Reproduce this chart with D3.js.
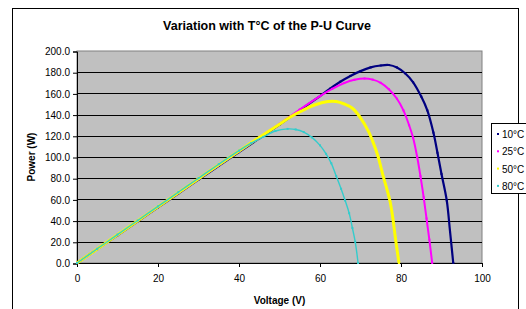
<!DOCTYPE html>
<html lang="en">
<head>
	<meta charset="UTF-8">
	<script type="text/javascript" src="https://d3js.org/d3.v7.min.js"></script>
	<title>Variation with T°C of the P-U Curve</title>
	<style>
		body{ margin:0; background:#fff; }
		text{ font-family:"Liberation Sans", Arial, sans-serif; fill:#000; }
		.tick text{ font-size:10px; }
		.title{ font-size:12.5px; font-weight:bold; }
		.axis_title{ font-size:10px; font-weight:bold; }
		.legend_text{ font-size:10px; }
		.curve{ fill:none; }
	</style>
</head>
<body>
	<script>
		const width = 526, height = 309;
		const plot = {left:77, right:482, top:51, bottom:263};

		// series names and colours
		const seriesNames = ["10°C", "25°C", "50°C", "80°C"];
		const seriesColors = ["#000080", "#ff00ff", "#ffff00", "#33cccc"];
		const seriesWidths = [2.2, 2, 3, 1.4];

		// points: [voltage (V), power (W)]
		const t10 = [[0,0],[5,13.1],[10,26.2],[15,39.3],[20,52.4],[25,65.5],[30,78.6],[35,91.6],[40,104.6],
			[45,117.5],[50,130.5],[55,144],[60,157.5],[62.5,164.5],[65,171],[67.5,176.5],[70,181],
			[72.5,184.5],[75,186.3],[77,186.8],[79,184.5],[81,179],[83,170.5],[85,157],[86.5,144],
			[88,123],[89,104],[90,84],[91.3,59],[92.1,30],[92.9,0]];
		const t25 = [[0,0],[5,13.2],[10,26.4],[15,39.6],[20,52.8],[25,66],[30,79.2],[35,92.3],[40,105.3],
			[45,118.3],[50,131.3],[55,144.8],[60,157.5],[63,164.3],[66,169.8],[68.5,172.8],[71,174],
			[73,173],[75,170],[77,164],[79,155],[80.6,144],[82,130],[83,118],[84,100],[84.8,82],
			[85.6,62],[86.3,42],[87,22],[87.7,0]];
		const t50 = [[0,0],[5,13.3],[10,26.6],[15,39.9],[20,53.1],[25,66.3],[30,79.5],[35,92.7],[40,105.7],
			[45,118.5],[50,131],[53,138.5],[56,144.5],[59,149.5],[62,152.3],[64,152.3],[66,150],
			[68,146],[70,137],[72,124],[73,115],[74.3,101],[75.6,82],[76.5,70],[77.3,58],[78,42],
			[78.6,24],[79.5,0]];
		const t80 = [[0,0],[5,13.4],[10,26.8],[15,40.1],[20,53.4],[25,66.7],[30,80],[35,93.2],[40,106],
			[43,113],[46,119],[49,124.5],[52,126.5],[54,126],[56,123.5],[58,118.5],[60,111],
			[61.5,103],[62.8,94],[64,82],[65.2,70],[66.2,59],[67.2,47],[68,33],[68.7,20],[69.4,0]];
		const seriesData = [t10, t25, t50, t80];

		const xTicks = [0, 20, 40, 60, 80, 100];
		const yTicks = [0, 20, 40, 60, 80, 100, 120, 140, 160, 180, 200];

		const svg = d3.select("body")
			.append("svg")
			.attr("width", width)
			.attr("height", height);

		// chart border
		svg.append("rect")
			.attr("x", 12.5).attr("y", 8.5)
			.attr("width", 506).attr("height", 320)
			.attr("fill", "#fff")
			.attr("stroke", "#000");

		const x = d3.scaleLinear().domain([0, 100]).range([plot.left, plot.right]);
		const y = d3.scaleLinear().domain([0, 200]).range([plot.bottom, plot.top]);

		// plot area
		svg.append("rect")
			.attr("x", plot.left).attr("y", plot.top)
			.attr("width", plot.right - plot.left).attr("height", plot.bottom - plot.top)
			.attr("fill", "#c0c0c0")
			.attr("stroke", "#808080");

		// grid lines
		svg.append("g")
			.selectAll("line")
			.data(yTicks.slice(1, -1))
			.enter()
			.append("line")
			.attr("x1", plot.left).attr("x2", plot.right)
			.attr("y1", d => Math.round(y(d)) + 0.5)
			.attr("y2", d => Math.round(y(d)) + 0.5)
			.attr("stroke", "#000");

		// axes
		const yAxis = svg.append("g")
			.attr("transform", "translate(" + plot.left + ",0.5)")
			.call(d3.axisLeft(y).tickValues(yTicks).tickSize(4).tickPadding(3).tickFormat(d3.format(".1f")));
		const xAxis = svg.append("g")
			.attr("transform", "translate(0," + plot.bottom + ")")
			.call(d3.axisBottom(x).tickValues(xTicks).tickSize(4).tickPadding(8).tickFormat(d3.format("d")));
		[xAxis, yAxis].forEach(function (a) {
			a.select(".domain").attr("stroke", "#000");
			a.selectAll(".tick line").attr("stroke", "#000");
			a.attr("font-family", null).attr("font-size", null);
		});

		// curves
		const line = d3.line()
			.x(d => x(d[0]))
			.y(d => y(d[1]))
			.curve(d3.curveCatmullRom);
		seriesData.forEach(function (data, i) {
			svg.append("path")
				.attr("class", "curve")
				.attr("stroke", seriesColors[i])
				.attr("stroke-width", seriesWidths[i])
				.attr("d", line(data));
			svg.append("g")
				.selectAll("rect")
				.data(data)
				.enter()
				.append("rect")
				.attr("x", d => x(d[0]) - 1)
				.attr("y", d => y(d[1]) - 1)
				.attr("width", 2).attr("height", 2)
				.attr("fill", seriesColors[i]);
		});

		// titles
		svg.append("text")
			.attr("class", "title")
			.attr("x", 267).attr("y", 30)
			.attr("text-anchor", "middle")
			.text("Variation with T°C of the P-U Curve");
		svg.append("text")
			.attr("class", "axis_title")
			.attr("transform", "translate(35,157) rotate(-90)")
			.attr("text-anchor", "middle")
			.text("Power (W)");
		svg.append("text")
			.attr("class", "axis_title")
			.attr("x", (plot.left + plot.right) / 2).attr("y", 304)
			.attr("text-anchor", "middle")
			.text("Voltage (V)");

		// legend
		const legend = svg.append("g").attr("transform", "translate(491,123)");
		legend.append("rect")
			.attr("x", 0.5).attr("y", 0.5)
			.attr("width", 45).attr("height", 70)
			.attr("fill", "#fff")
			.attr("stroke", "#000");
		seriesNames.forEach(function (name, i) {
			legend.append("rect")
				.attr("x", 6).attr("y", 10 + i * 17.3)
				.attr("width", 2).attr("height", 2)
				.attr("fill", seriesColors[i]);
			legend.append("text")
				.attr("class", "legend_text")
				.attr("x", 11).attr("y", 15 + i * 17.3)
				.text(name);
		});
	</script>
</body>
</html>
